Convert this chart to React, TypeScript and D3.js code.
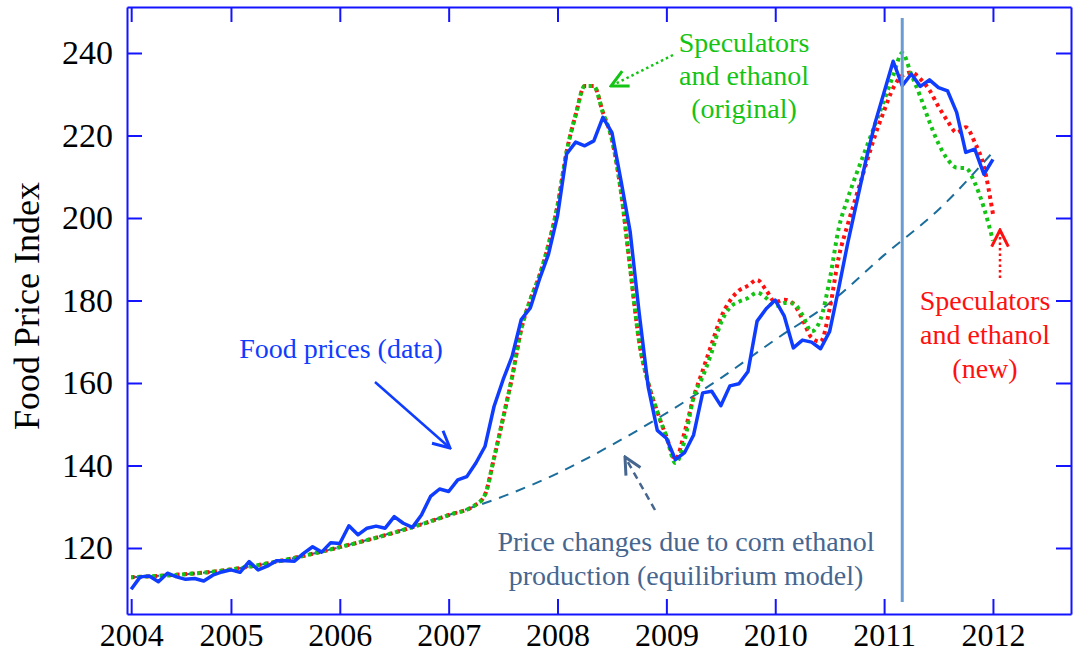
import React, { useEffect, useRef } from "react";
import * as d3 from "d3";

// monthly food price index, first point is Feb 2004
const firstMonth = 2004 + 1 / 12;
const foodPrice = [
  110.0, 113.0, 113.2, 111.8, 113.9, 113.0, 112.4, 112.6, 112.0, 113.4, 114.2, 114.7,
  114.1, 116.7, 114.7, 115.6, 116.9, 116.9, 116.8, 118.7, 120.3, 119.0, 121.3, 121.1,
  125.4, 123.2, 124.8, 125.3, 124.8, 127.6, 126.0, 125.0, 128.0, 132.5, 134.3, 133.7,
  136.5, 137.3, 140.6, 144.6, 154.3, 160.8, 166.5, 175.4, 178.2, 185.1, 191.2, 200.5,
  215.5, 218.4, 217.5, 218.7, 224.4, 220.7, 209.0, 196.8, 177.0, 159.0, 148.5, 146.6,
  141.4, 143.1, 147.4, 157.6, 158.0, 154.5, 159.3, 159.8, 162.8, 175.0, 178.0, 180.1,
  176.2, 168.5, 170.4, 169.9, 168.3, 172.5, 183.0, 194.0, 204.0, 214.0, 223.0, 230.5,
  238.0, 232.1, 234.9, 231.9, 233.5, 231.6, 230.8, 225.6, 215.9, 216.7, 210.6, 214.2,
];

// speculator models, monthly from this index of foodPrice on
const specStartIndex = 38;
const specOriginal = [
  130.5, 132.9, 141.8, 151.5, 161.5, 173.0, 180.2, 186.0, 193.5, 203.0,
  216.0, 225.0, 232.0, 232.0, 225.6, 219.0, 206.3, 188.0, 170.0, 160.0,
  153.0, 147.0, 140.6, 146.0, 156.5, 161.5, 167.5, 174.5, 178.3, 179.7,
  180.6, 181.9, 180.6, 178.6, 179.4, 179.3, 176.5, 172.5, 175.5, 185.0,
  197.5, 204.8, 211.0, 216.8, 222.6, 228.5, 234.5, 240.0, 234.8, 229.4,
  223.3, 218.0, 214.2, 212.2, 212.1, 208.5, 202.5, 194.5,
];
const specNew = [
  130.5, 132.9, 141.8, 151.5, 161.5, 173.0, 180.2, 186.0, 193.5, 203.0,
  216.0, 225.0, 232.0, 232.0, 225.6, 219.0, 206.3, 188.0, 170.0, 160.0,
  153.0, 147.0, 141.5, 148.0, 156.5, 163.0, 169.5, 175.8, 179.9, 182.4,
  183.6, 185.0, 182.5, 179.6, 180.2, 179.2, 175.5, 171.0, 170.0, 178.0,
  190.5, 198.5, 205.8, 213.0, 220.0, 226.0, 231.5, 234.5, 235.3, 233.7,
  231.0, 227.0, 223.5, 220.7, 222.0, 218.3, 212.5, 201.0,
];

// corn ethanol equilibrium model
const equilDates = [2004 + 1 / 12, 2005, 2006, 2007, 2007.5, 2008, 2008.5, 2009, 2009.5, 2010, 2010.5, 2011, 2011.5, 2012];
const equilValues = [112.9, 114.8, 120.2, 128.0, 132.5, 138.1, 145.0, 152.7, 161.2, 170.5, 179.4, 191.0, 202.0, 216.0];

const xTickYears = [2004, 2005, 2006, 2007, 2008, 2009, 2010, 2011, 2012];
const yTicks = [120, 140, 160, 180, 200, 220, 240];
const cutoffDate = 2011 + 2 / 12;

const FONT = "'Liberation Serif', 'Times New Roman', serif";
const FRAME = "#1414ff";
const BLUE = "#0f3dff";
const GREEN = "#14c414";
const RED = "#ff1010";
const SLATE = "#46668f";

export default function App() {
  const ref = useRef<SVGSVGElement>(null);

  useEffect(() => {
    const svg = d3.select(ref.current);
    svg.selectAll("*").remove();

    const left = 127, right = 1071, top = 7, bottom = 614;
    const x = d3.scaleLinear().domain([2004.045, 2012.717]).range([left, right]);
    const y = d3.scaleLinear().domain([104, 251.15]).range([bottom, top]);

    // arrow heads
    const defs = svg.append("defs");
    [["blue", BLUE], ["green", GREEN], ["red", RED], ["slate", SLATE]].forEach(([id, c]) => {
      defs.append("marker")
        .attr("id", "head-" + id)
        .attr("viewBox", "0 0 12 12")
        .attr("refX", 11)
        .attr("refY", 6)
        .attr("markerWidth", 20)
        .attr("markerHeight", 20)
        .attr("markerUnits", "userSpaceOnUse")
        .attr("orient", "auto")
        .append("path")
        .attr("d", "M1,1 L11,6 L1,11")
        .attr("fill", "none")
        .attr("stroke", c)
        .attr("stroke-width", 1.8);
    });

    // axes (ticks point inward, frame on all four sides)
    const xTickPos = xTickYears.map((yr) => (yr === 2004 ? firstMonth : yr));
    const styleAxis = (g) => {
      g.attr("color", FRAME).attr("font-family", FONT).attr("font-size", 32);
      g.selectAll(".domain").attr("stroke-width", 2);
      g.selectAll(".tick line").attr("stroke-width", 2);
      g.selectAll("text").attr("fill", "#000");
    };

    svg.append("g")
      .attr("transform", `translate(0,${bottom})`)
      .call(d3.axisBottom(x).tickValues(xTickPos).tickFormat((d, i) => String(xTickYears[i]))
        .tickSizeInner(-15).tickSizeOuter(0).tickPadding(9))
      .call(styleAxis);
    svg.append("g")
      .attr("transform", `translate(0,${top})`)
      .call(d3.axisTop(x).tickValues(xTickPos).tickFormat(() => "").tickSizeInner(-15).tickSizeOuter(0))
      .call(styleAxis);
    svg.append("g")
      .attr("transform", `translate(${left},0)`)
      .call(d3.axisLeft(y).tickValues(yTicks).tickSizeInner(-15).tickSizeOuter(0).tickPadding(14))
      .call(styleAxis)
      .call((g) => g.selectAll("text").attr("font-size", 34));
    svg.append("g")
      .attr("transform", `translate(${right},0)`)
      .call(d3.axisRight(y).tickValues(yTicks).tickFormat(() => "").tickSizeInner(-15).tickSizeOuter(0))
      .call(styleAxis);

    // y label
    svg.append("text")
      .attr("transform", `translate(39,306) rotate(-90)`)
      .attr("text-anchor", "middle")
      .attr("font-family", FONT)
      .attr("font-size", 36)
      .text("Food Price Index");

    const line = d3.line<[number, number]>()
      .x((d) => x(d[0]))
      .y((d) => y(d[1]));

    // equilibrium model (dashed)
    const equil: [number, number][] = equilDates.map((t, i) => [t, equilValues[i]]);
    svg.append("path")
      .attr("d", line.curve(d3.curveMonotoneX)(equil))
      .attr("fill", "none")
      .attr("stroke", "#1b6d9c")
      .attr("stroke-width", 2)
      .attr("stroke-dasharray", "10,8");

    // speculator models (dotted), sharing the equilibrium curve before 2007
    const early = equil.filter((d) => d[0] <= 2007);
    const specPts = (vals: number[]): [number, number][] =>
      early.concat(vals.map((v, i) => [firstMonth + (specStartIndex + i) / 12, v] as [number, number]));

    svg.append("path")
      .attr("d", line.curve(d3.curveMonotoneX)(specPts(specNew)))
      .attr("fill", "none")
      .attr("stroke", RED)
      .attr("stroke-width", 4)
      .attr("stroke-dasharray", "3.5,4");
    svg.append("path")
      .attr("d", line.curve(d3.curveMonotoneX)(specPts(specOriginal)))
      .attr("fill", "none")
      .attr("stroke", GREEN)
      .attr("stroke-width", 4)
      .attr("stroke-dasharray", "3.5,4")
      .attr("stroke-dashoffset", 1.5);

    // food price data
    const data: [number, number][] = foodPrice.map((v, i) => [firstMonth + i / 12, v]);
    svg.append("path")
      .attr("d", line.curve(d3.curveLinear)(data))
      .attr("fill", "none")
      .attr("stroke", BLUE)
      .attr("stroke-width", 3.5)
      .attr("stroke-linejoin", "round");

    // vertical marker
    svg.append("line")
      .attr("x1", x(cutoffDate)).attr("x2", x(cutoffDate))
      .attr("y1", top + 11).attr("y2", bottom - 12)
      .attr("stroke", "#6a9bd3")
      .attr("stroke-width", 3);

    // annotations
    const label = (lines: string[], cx: number, y0: number, dy: number, color: string) => {
      const t = svg.append("text")
        .attr("text-anchor", "middle")
        .attr("font-family", FONT)
        .attr("font-size", 28)
        .attr("fill", color);
      lines.forEach((s, i) => t.append("tspan").attr("x", cx).attr("y", y0 + i * dy).text(s));
    };
    const arrow = (x1, y1, x2, y2, color, id, dash) => {
      svg.append("line")
        .attr("x1", x1).attr("y1", y1).attr("x2", x2).attr("y2", y2)
        .attr("stroke", color)
        .attr("stroke-width", 2.5)
        .attr("stroke-dasharray", dash)
        .attr("marker-end", `url(#head-${id})`);
    };

    label(["Speculators", "and ethanol", "(original)"], 744, 52, 33, GREEN);
    arrow(673, 55, 611, 86, GREEN, "green", "2.5,3");

    label(["Food prices (data)"], 341, 358, 0, BLUE);
    arrow(375, 382, 450, 448, BLUE, "blue", null);

    label(["Price changes due to corn ethanol", "production (equilibrium model)"], 686, 551, 34, SLATE);
    arrow(655, 510, 625, 457, SLATE, "slate", "7,5");

    label(["Speculators", "and ethanol", "(new)"], 985, 310, 34, RED);
    arrow(1000, 278, 1000, 230, RED, "red", "2.5,3");
  }, []);

  return (
    <svg
      ref={ref}
      width={1073}
      height={655}
      style={{ position: "absolute", left: 0, top: 0, background: "#fff" }}
    />
  );
}
